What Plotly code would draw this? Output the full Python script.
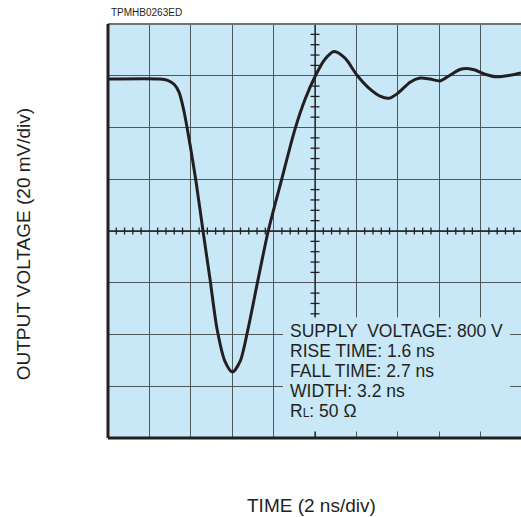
import plotly.graph_objects as go
import numpy as np

# Time in ns (2 ns/div), output voltage in mV (20 mV/div)
time_ns = [0.0, 2.51, 2.85, 3.19, 3.43, 3.67, 3.96, 4.25, 4.59, 4.93, 5.27, 5.65,
           6.01, 6.38, 6.76, 7.25, 7.74, 8.39, 9.03, 9.52, 10.03, 10.48, 10.92,
           11.45, 12.03, 12.66, 13.14, 13.58, 14.01, 14.59, 15.07, 15.56, 16.04,
           16.52, 17.00, 17.34, 17.73, 18.21, 18.79, 19.42, 19.95]
voltage_mv = [58.7, 58.7, 58.3, 56.7, 53.7, 46.3, 33.5, 19.2, 0.0, -18.7, -38.0, -50.4,
              -54.5, -50.4, -38.0, -18.7, 0.0, 20.0, 39.3, 50.9, 60.2, 66.4, 69.4,
              66.8, 60.2, 54.8, 52.1, 51.3, 53.3, 57.5, 59.1, 58.7, 58.0,
              60.2, 62.4, 62.8, 62.2, 60.6, 59.6, 60.2, 61.1]

info_lines = ["SUPPLY  VOLTAGE: 800 V", "RISE TIME: 1.6 ns", "FALL TIME: 2.7 ns",
              "WIDTH: 3.2 ns", "R<span style='font-size:12px'>L</span>: 50 Ω"]
code_label = "TPMHB0263ED"
x_title = "TIME (2 ns/div)"
y_title = "OUTPUT VOLTAGE (20 mV/div)"

BG = "#c8e8f8"
GRID = "#4f575d"
INK = "#231f20"
FONT = "Liberation Sans, Arial, sans-serif"

X_RANGE = [0, 19.95]
Y_RANGE = [-80, 80]

fig = go.Figure()
fig.add_trace(go.Scatter(x=time_ns, y=voltage_mv, mode="lines",
                         line=dict(color=INK, width=3, shape="spline", smoothing=0.8),
                         hoverinfo="skip", showlegend=False))

shapes = []
# minor ticks on center horizontal line
for t in np.arange(0.4, 20.0, 0.4):
    if abs(t / 2 - round(t / 2)) < 1e-6:
        continue
    shapes.append(dict(type="line", xref="x", yref="y", x0=t, x1=t,
                       ysizemode="pixel", yanchor=0, y0=-3.5, y1=3.5,
                       line=dict(color=INK, width=1.3)))
# minor ticks on center vertical line
for v in np.arange(-76, 80, 4):
    if abs(v / 20 - round(v / 20)) < 1e-6:
        continue
    shapes.append(dict(type="line", xref="x", yref="y", y0=v, y1=v,
                       xsizemode="pixel", xanchor=10, x0=-4.5, x1=4.5,
                       line=dict(color=INK, width=1.3)))
# center lines (darker)
shapes.append(dict(type="line", xref="x", yref="y", x0=X_RANGE[0], x1=X_RANGE[1], y0=0, y1=0,
                   line=dict(color=INK, width=1.3)))
shapes.append(dict(type="line", xref="x", yref="y", x0=10, x1=10, y0=Y_RANGE[0], y1=Y_RANGE[1],
                   line=dict(color=INK, width=1.3)))
# info box background
shapes.append(dict(type="rect", xref="x", yref="y", x0=8.45, x1=19.42, y0=-77.5, y1=-33.4,
                   fillcolor=BG, line=dict(width=0), layer="above"))
# borders
shapes.append(dict(type="line", xref="paper", yref="paper", x0=0, x1=1, y0=1, y1=1,
                   line=dict(color="#6f7478", width=2)))
shapes.append(dict(type="line", xref="paper", yref="paper", x0=0, x1=0, y0=0, y1=1,
                   line=dict(color=INK, width=3)))
shapes.append(dict(type="line", xref="paper", yref="paper", x0=0, x1=1, y0=0, y1=0,
                   line=dict(color=INK, width=3)))

annotations = []
line_y = [-38.7, -46.4, -54.2, -61.9, -69.6]
for txt, yy in zip(info_lines, line_y):
    annotations.append(dict(text=txt, x=8.7, y=yy, xref="x", yref="y",
                            xanchor="left", yanchor="middle", showarrow=False,
                            font=dict(family=FONT, size=17.5, color=INK)))
annotations.append(dict(text=code_label, xref="paper", yref="paper", x=0.003, y=1.027,
                        xanchor="left", yanchor="middle", showarrow=False,
                        font=dict(family=FONT, size=10, color=INK)))
annotations.append(dict(text=x_title, xref="paper", yref="paper", x=(311 - 108) / 413, y=-0.163,
                        xanchor="center", yanchor="middle", showarrow=False,
                        font=dict(family=FONT, size=19, color=INK)))
annotations.append(dict(text=y_title, xref="paper", yref="paper", x=-(108 - 23) / 413, y=0.468,
                        xanchor="center", yanchor="middle", showarrow=False, textangle=-90,
                        font=dict(family=FONT, size=19, color=INK)))

fig.update_layout(
    width=521, height=517,
    margin=dict(l=108, r=0, t=24, b=79),
    paper_bgcolor="white", plot_bgcolor=BG,
    shapes=shapes, annotations=annotations,
    xaxis=dict(range=X_RANGE, dtick=2, tick0=0, showgrid=True, gridcolor=GRID, gridwidth=1.3,
               zeroline=False, showticklabels=False, ticks="", showline=False, fixedrange=True),
    yaxis=dict(range=Y_RANGE, dtick=20, tick0=0, showgrid=True, gridcolor=GRID, gridwidth=1.3,
               zeroline=False, showticklabels=False, ticks="", showline=False, fixedrange=True),
    showlegend=False,
)

fig.write_html("out.html", config={"displayModeBar": False})
